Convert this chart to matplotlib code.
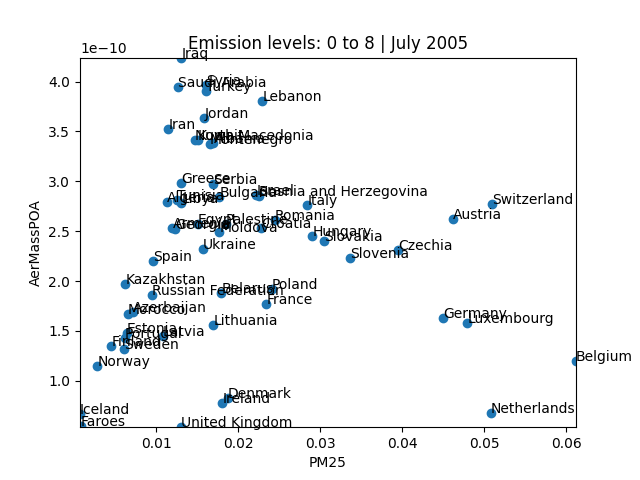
import matplotlib
matplotlib.use("Agg")
import matplotlib.pyplot as plt

countries = ["Iraq","Saudi Arabia","Syria","Turkey","Lebanon","Jordan","Iran","Kuwait","North Macedonia","Albania","Montenegro",
 "Greece","Serbia","Bulgaria","Israel","Bosnia and Herzegovina","Italy","Algeria","Tunisia","Libya","Romania","Croatia","Egypt","Palestine","Moldova",
 "Armenia","Georgia","Ukraine","Spain","Hungary","Slovakia","Slovenia","Czechia","Austria","Switzerland","Germany","Luxembourg","Belgium","Netherlands",
 "Kazakhstan","Russian Federation","Belarus","Poland","France","Azerbaijan","Morocco","Lithuania","Estonia","Portugal","Latvia","Finland","Sweden","Norway",
 "Ireland","Denmark","Iceland","Faroes","United Kingdom"]
pm25 = [.01307,.01268,.0161,.0161,.02293,.01585,.01146,.01509,.01478,.01698,.01650,
 .01301,.01695,.01768,.02222,.02256,.02841,.01134,.01252,.01307,.02448,.02277,.01509,.0185,.01768,
 .01198,.01228,.01573,.00963,.02902,.03045,.03366,.03948,.04618,.05098,.045,.04793,.0612,.05082,
 .00622,.00951,.01793,.02411,.02344,.00716,.00655,.01695,.00639,.00618,.01082,.00451,.0061,.0028,
 .01805,.01874,.0007,.0008,.01307]
aer = [4.24,3.95,3.97,3.91,3.807,3.636,3.526,3.419,3.419,3.388,3.373,
 2.984,2.974,2.84,2.862,2.852,2.764,2.794,2.812,2.787,2.617,2.533,2.573,2.57,2.493,
 2.536,2.526,2.326,2.2,2.456,2.406,2.233,2.316,2.624,2.777,1.634,1.581,1.203,0.682,
 1.972,1.862,1.885,1.925,1.771,1.694,1.669,1.561,1.484,1.434,1.449,1.35,1.323,1.153,
 0.782,0.832,0.672,0.55,0.535]
aer_scaled = [v * 1e-10 for v in aer]

fig, ax = plt.subplots(figsize=(6.4, 4.8), dpi=100)
ax.scatter(pm25, aer_scaled)
ax.margins(0)
for name, x, y in zip(countries, pm25, aer_scaled):
    ax.annotate(name, (x, y))
ax.set_xlabel("PM25")
ax.set_ylabel("AerMassPOA")
ax.set_title("Emission levels: 0 to 8 | July 2005")
fig.savefig("out.png", dpi=100)
